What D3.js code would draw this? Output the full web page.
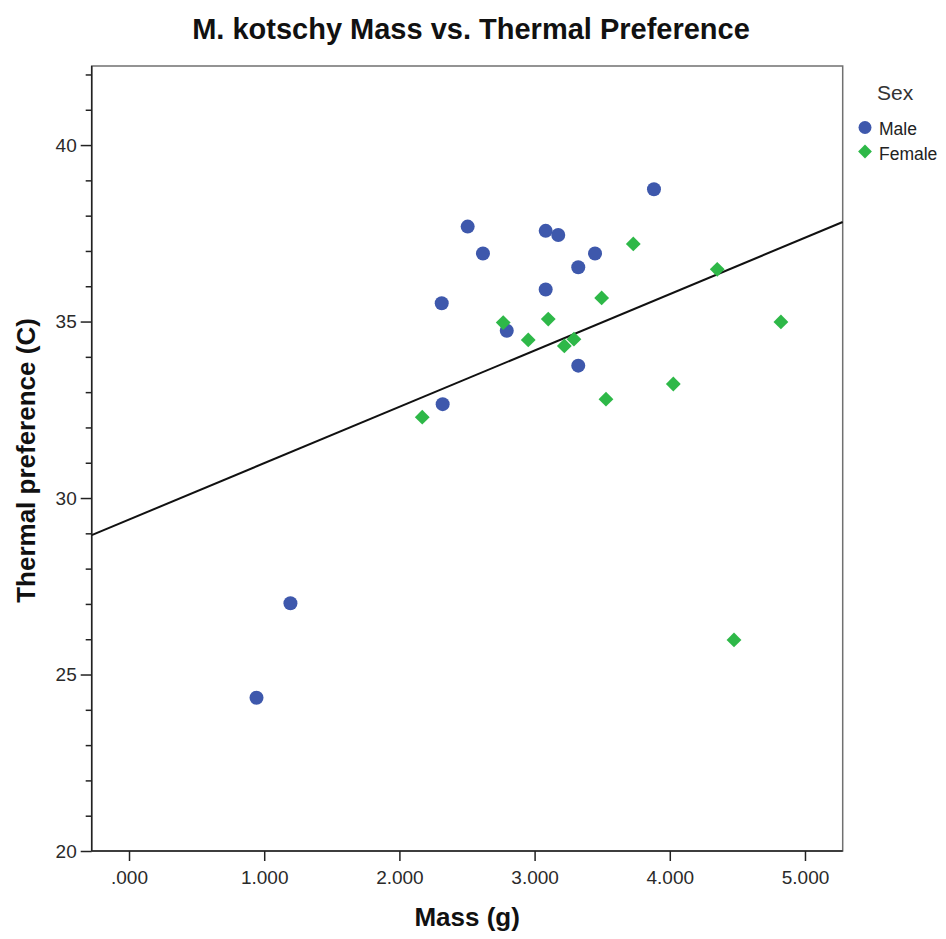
<html lang="en"><head>
<meta charset="utf-8">
<title>M. kotschy Mass vs. Thermal Preference</title>
<script src="https://cdn.jsdelivr.net/npm/d3@7"></script>
<style>
  body { margin: 0; background: #fff; }
  text { font-family: "Liberation Sans", Arial, sans-serif; }
</style>
</head>
<body>
<script>
// chart data
var maleMass = [0.943, 1.194, 2.313, 2.320, 2.505, 2.618, 2.794, 3.082, 3.082, 3.175, 3.323, 3.323, 3.447, 3.883];
var maleTemp = [24.34, 27.02, 35.52, 32.66, 37.69, 36.93, 34.74, 37.57, 35.91, 37.45, 36.54, 33.75, 36.93, 38.75];
var femaleMass = [2.169, 2.768, 2.953, 3.101, 3.220, 3.291, 3.496, 3.528, 3.730, 4.026, 4.351, 4.475, 4.822];
var femaleTemp = [32.29, 34.97, 34.48, 35.07, 34.31, 34.50, 35.67, 32.80, 37.20, 33.23, 36.48, 25.98, 34.99];
var fitIntercept = 29.39, fitSlope = 1.597;
var xTicks = [0, 1, 2, 3, 4, 5];
var xTickLabels = [".000", "1.000", "2.000", "3.000", "4.000", "5.000"];
var yTicks = [20, 25, 30, 35, 40];
var yMinor = d3.range(20, 43).filter(function(d) { return d % 5 !== 0; });

var w = 946, h = 939;
var pLeft = 91.7, pRight = 842.7, pTop = 66, pBottom = 851;
var blue = "#3e58ac", green = "#2eb848";

var svg = d3.select("body").append("svg").attr("width", w).attr("height", h);

var x = d3.scaleLinear().domain([-0.276, 5.279]).range([pLeft, pRight]);
var y = d3.scaleLinear().domain([20, 42.24]).range([pBottom, pTop]);

// frame (top/right lighter)
svg.append("rect")
   .attr("x", pLeft).attr("y", pTop)
   .attr("width", pRight - pLeft).attr("height", pBottom - pTop)
   .attr("fill", "none").attr("stroke", "#707070").attr("stroke-width", 1.5);

// fit line
var x0 = x.domain()[0], x1 = x.domain()[1];
svg.append("line")
   .attr("x1", x(x0)).attr("y1", y(fitIntercept + fitSlope * x0))
   .attr("x2", x(x1)).attr("y2", y(fitIntercept + fitSlope * x1))
   .attr("stroke", "#111").attr("stroke-width", 2);

// axes
var xAxis = d3.axisBottom(x).tickValues(xTicks).tickSize(10).tickPadding(10)
   .tickFormat(function(d, i) { return xTickLabels[i]; });
var gx = svg.append("g").attr("transform", "translate(0," + pBottom + ")").call(xAxis);
gx.select(".domain").remove();
gx.append("line").attr("x1", pLeft).attr("x2", pRight).attr("stroke", "#222").attr("stroke-width", 1.5);
gx.selectAll(".tick line").attr("stroke", "#222").attr("stroke-width", 1.5);
gx.selectAll("text").attr("font-size", "19px").attr("fill", "#2a2a2a")
   .attr("font-family", "Liberation Sans, Arial, sans-serif");

var yAxis = d3.axisLeft(y).tickValues(yTicks).tickSize(11).tickPadding(4);
var gy = svg.append("g").attr("transform", "translate(" + pLeft + ",0)").call(yAxis);
gy.select(".domain").remove();
gy.append("line").attr("y1", pTop).attr("y2", pBottom).attr("stroke", "#222").attr("stroke-width", 1.5);
gy.selectAll(".tick line").attr("stroke", "#222").attr("stroke-width", 1.5);
gy.selectAll("text").attr("font-size", "19px").attr("fill", "#2a2a2a")
   .attr("font-family", "Liberation Sans, Arial, sans-serif");

var yAxisMinor = d3.axisLeft(y).tickValues(yMinor).tickSize(6).tickFormat("");
var gym = svg.append("g").attr("transform", "translate(" + pLeft + ",0)").call(yAxisMinor);
gym.select(".domain").remove();
gym.selectAll(".tick line").attr("stroke", "#222").attr("stroke-width", 1.5);

// points
var males = maleMass.map(function(m, i) { return { m: m, t: maleTemp[i] }; });
var females = femaleMass.map(function(m, i) { return { m: m, t: femaleTemp[i] }; });

svg.selectAll("circle.male")
   .data(males)
   .enter()
   .append("circle")
   .attr("class", "male")
   .attr("cx", function(d) { return x(d.m); })
   .attr("cy", function(d) { return y(d.t); })
   .attr("r", 7)
   .attr("fill", blue);

var diamond = d3.symbol().type(d3.symbolSquare).size(110);
svg.selectAll("path.female")
   .data(females)
   .enter()
   .append("path")
   .attr("class", "female")
   .attr("d", diamond)
   .attr("transform", function(d) { return "translate(" + x(d.m) + "," + y(d.t) + ") rotate(45)"; })
   .attr("fill", green);

// titles
svg.append("text")
   .attr("x", 471).attr("y", 39)
   .attr("text-anchor", "middle")
   .attr("font-size", "29px").attr("font-weight", "bold").attr("fill", "#111")
   .text("M. kotschy Mass vs. Thermal Preference");

svg.append("text")
   .attr("x", (pLeft + pRight) / 2).attr("y", 926)
   .attr("text-anchor", "middle")
   .attr("font-size", "26px").attr("font-weight", "bold").attr("fill", "#111")
   .text("Mass (g)");

svg.append("text")
   .attr("transform", "translate(35," + ((pTop + pBottom) / 2 + 2) + ") rotate(-90)")
   .attr("text-anchor", "middle")
   .attr("font-size", "26px").attr("font-weight", "bold").attr("fill", "#111")
   .text("Thermal preference (C)");

// legend
svg.append("text")
   .attr("x", 877).attr("y", 100)
   .attr("font-size", "21px").attr("fill", "#333")
   .text("Sex");

svg.append("circle").attr("cx", 865).attr("cy", 127.5).attr("r", 6.5).attr("fill", blue);
svg.append("text").attr("x", 879).attr("y", 135)
   .attr("font-size", "17.5px").attr("fill", "#222").text("Male");

svg.append("path").attr("d", d3.symbol().type(d3.symbolSquare).size(95))
   .attr("transform", "translate(865,151.5) rotate(45)").attr("fill", green);
svg.append("text").attr("x", 879).attr("y", 160)
   .attr("font-size", "17.5px").attr("fill", "#222").text("Female");
</script>
</body></html>
